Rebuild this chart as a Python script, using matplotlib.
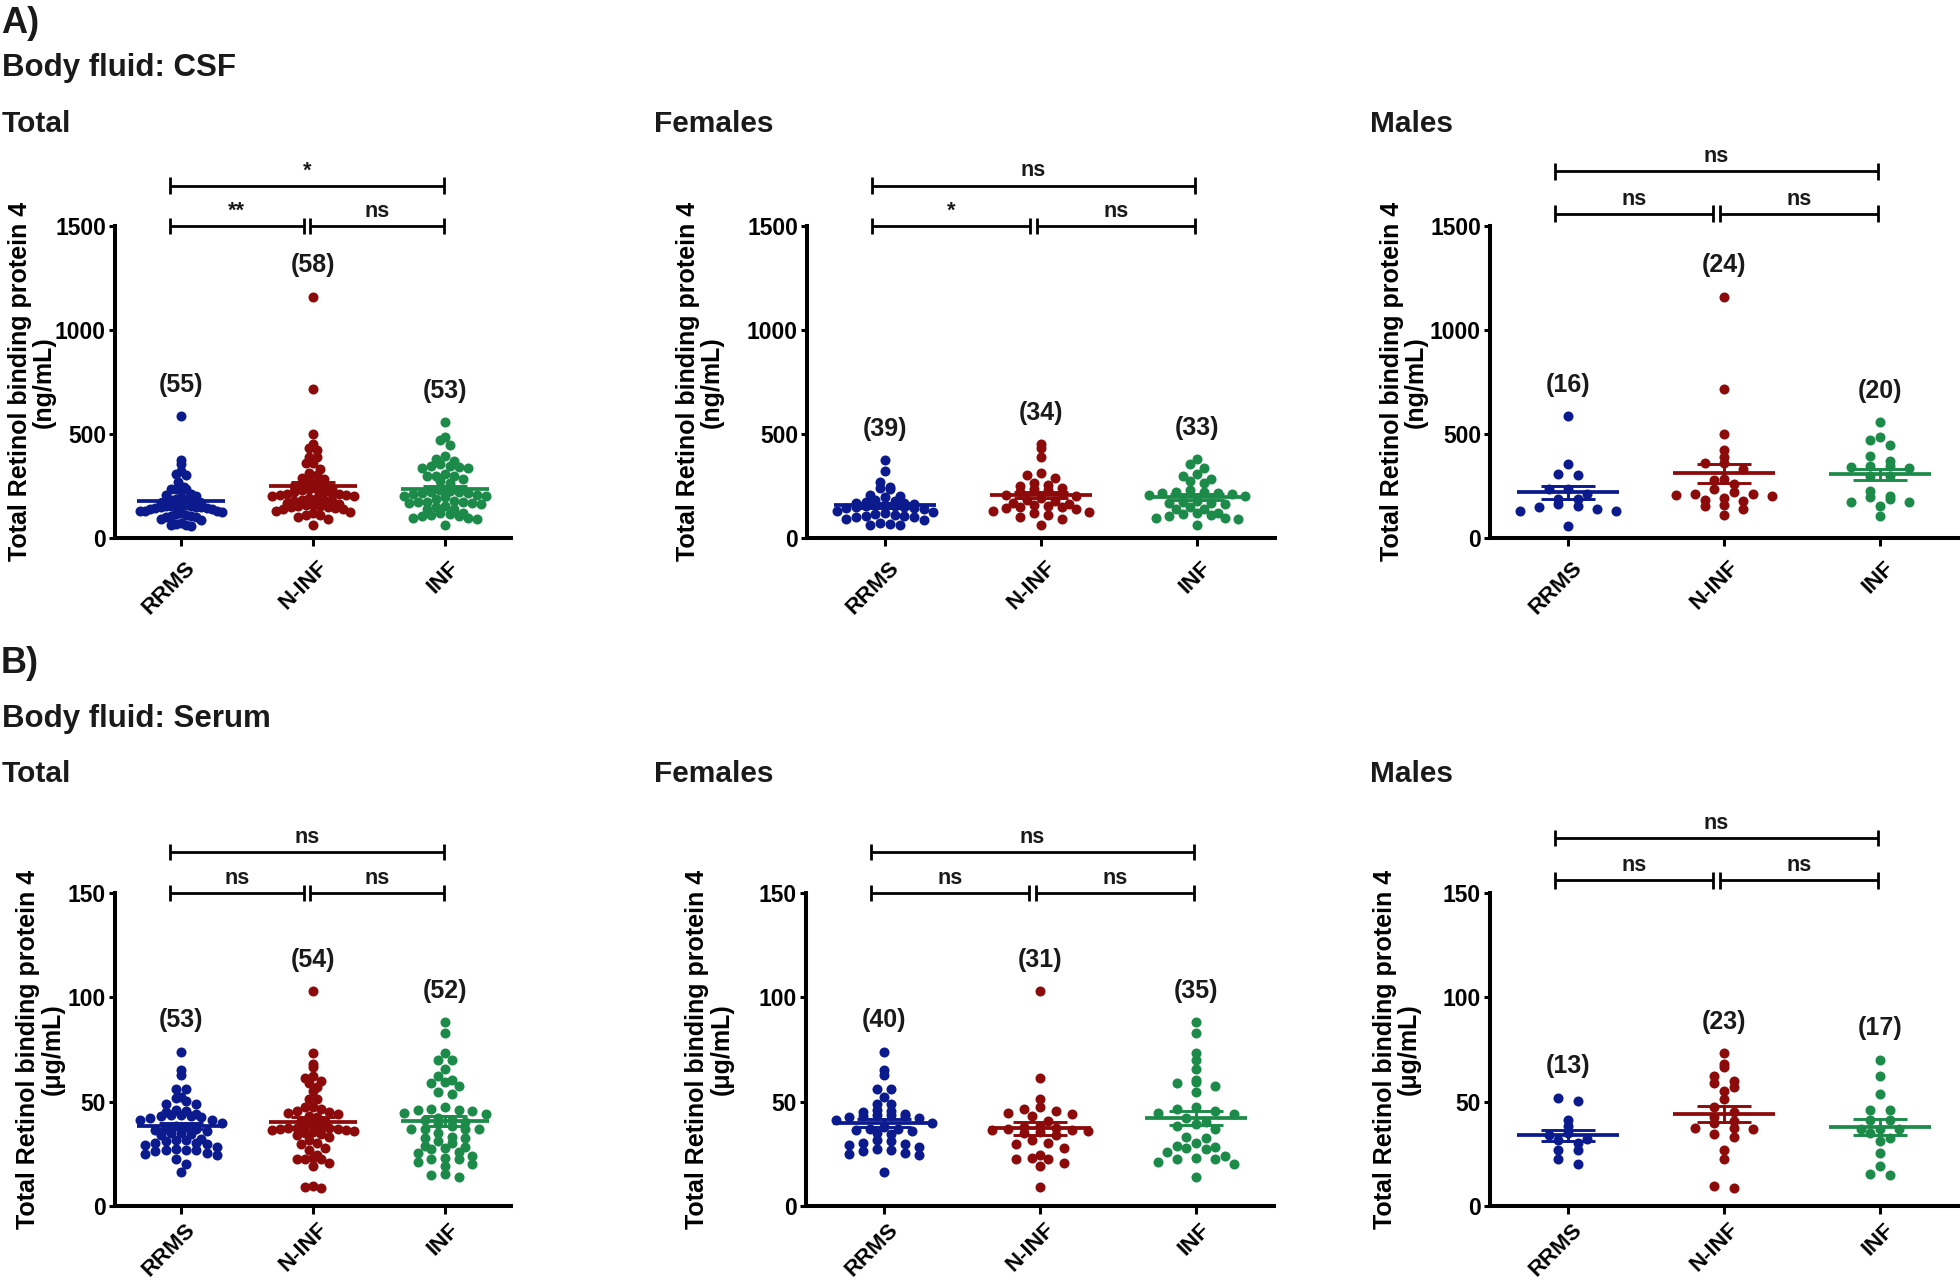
import numpy as np
import matplotlib
matplotlib.use('Agg')
import matplotlib.pyplot as plt
from matplotlib.transforms import ScaledTranslation

plt.rcParams['font.family'] = ['Liberation Sans', 'DejaVu Sans']
plt.rcParams['font.weight'] = 'bold'

# ---------------- data ----------------
groups = ['RRMS', 'N-INF', 'INF']
group_colors = ['#0b1a8c', '#8c0a0a', '#1c8a48']

# CSF (ng/mL) - females
csf_f_rrms = [372, 318, 268, 245, 238, 235, 205, 200, 196, 180, 175, 172, 168, 165, 162,
              158, 155, 152, 150, 148, 146, 143, 140, 136, 130, 125, 118, 112, 108, 104,
              102, 100, 98, 70, 66, 62, 58, 90, 85]
csf_f_ninf = [449, 433, 388, 310, 300, 285, 262, 255, 248, 240, 235, 230, 220, 210, 205,
              200, 190, 182, 175, 168, 160, 155, 150, 148, 145, 140, 135, 130, 125, 118,
              110, 100, 90, 58]
csf_f_inf = [376, 352, 333, 305, 281, 296, 272, 264, 227, 221, 200, 208, 216, 203, 219,
             216, 173, 160, 147, 168, 168, 176, 139, 136, 109, 91, 104, 96, 96, 113,
             117, 120, 61]
# CSF (ng/mL) - males
csf_m_rrms = [586, 354, 300, 305, 235, 235, 208, 187, 187, 159, 146, 130, 135, 127, 154, 54]
csf_m_ninf = [1160, 716, 497, 419, 386, 357, 357, 330, 284, 276, 256, 235, 219, 208, 203,
              208, 200, 175, 180, 191, 156, 151, 135, 110]
csf_m_inf = [557, 484, 471, 446, 391, 370, 346, 346, 338, 333, 294, 294, 224, 195, 200,
             183, 170, 170, 151, 105]

# Serum (ug/mL) - females
ser_f_rrms = [74, 65, 63, 56, 56, 52, 49, 49, 46, 45.5, 45, 44, 43.5, 43.5, 43, 43, 42.5,
              42, 41, 40, 38, 37, 37, 36.5, 36, 35, 34.5, 31.5, 31, 30, 29.5, 29, 28.5,
              27.5, 27, 26.5, 25.5, 25, 24.5, 16.5]
ser_f_ninf = [103, 61.5, 51.5, 47.5, 46.5, 45.5, 44.5, 44, 43, 40.5, 38.5, 38, 37.5, 37,
              36.5, 36.5, 36, 35.5, 35, 34, 31.5, 30, 29.5, 28, 24.5, 23, 22.5, 22.5,
              20.5, 19, 9]
ser_f_inf = [88, 83.1, 73.2, 70, 65.5, 59.6, 60.4, 57.5, 58.8, 54.8, 47.3, 45.5, 44.4,
             44.1, 46.5, 39.3, 40.4, 38.5, 36.9, 33.2, 32.4, 30.3, 28.9, 27.6, 28.4, 27.3,
             25.7, 24.1, 22.4, 23.2, 22.4, 20.9, 20.0, 14.1, 42]
# Serum (ug/mL) - males
ser_m_rrms = [51.9, 50.3, 41.1, 38.4, 33.9, 32.3, 30.4, 31.5, 27, 27, 22.3, 20, 35]
ser_m_ninf = [73.1, 68, 66.8, 62.2, 60, 58.8, 56.9, 55.3, 51.4, 47.3, 44.9, 42.6, 40.5,
              39.7, 37.4, 36.7, 37.4, 34.3, 33.1, 27, 22.7, 8.4, 9.5]
ser_m_inf = [70.2, 62.2, 53.7, 45.8, 46.1, 41.1, 41.1, 37.1, 37.1, 37.1, 35, 32.8, 31.2,
             25.2, 19.1, 14.8, 15.3]

# significance labels: (left pair, right pair, outer pair)
sig_csf_total = ['**', 'ns', '*']
sig_csf_female = ['*', 'ns', 'ns']
sig_csf_male = ['ns', 'ns', 'ns']
sig_serum_total = ['ns', 'ns', 'ns']
sig_serum_female = ['ns', 'ns', 'ns']
sig_serum_male = ['ns', 'ns', 'ns']

csf_yticks = [0, 500, 1000, 1500]
serum_yticks = [0, 50, 100, 150]

# ---------------- figure ----------------
W, H = 1960, 1285
fig = plt.figure(figsize=(W / 100, H / 100), dpi=100)
TXT = '#1a1a1a'


def rect(left, top, right, bottom):
    return [left / W, 1 - bottom / H, (right - left) / W, (bottom - top) / H]


def swarm(vals, center, binh, maxstep=0.122, spread=0.62):
    vals = np.asarray(vals, dtype=float)
    bins = np.floor(vals / binh).astype(int)
    rows = {}
    for idx, b in enumerate(bins):
        rows.setdefault(b, []).append(idx)
    nmax = max(len(r) for r in rows.values())
    step = maxstep if nmax <= 1 else min(maxstep, spread / (nmax - 1))
    xs = np.zeros(len(vals))
    for b, idxs in rows.items():
        idxs = sorted(idxs, key=lambda k: -vals[k])
        n = len(idxs)
        slots = (np.arange(n) - (n - 1) / 2) * step
        order = np.argsort(np.abs(slots) + 1e-6 * np.arange(n), kind='stable')
        for k, si in zip(idxs, order):
            xs[k] = center + slots[si]
    return xs


def bracket(ax, x0, x1, y, h, text, ymax):
    kw = dict(color='black', lw=2.0, clip_on=False, solid_capstyle='butt')
    ax.plot([x0, x1], [y, y], **kw)
    ax.plot([x0, x0], [y - h, y + h], **kw)
    ax.plot([x1, x1], [y - h, y + h], **kw)
    ax.text((x0 + x1) / 2, y + 0.029 * ymax, text, ha='center', va='baseline',
            fontsize=15.5, fontweight='bold', color=TXT)


def panel(r, data, ymax, yticks, unit, sig, lab_x, male=False, xpad=3.5):
    ax = fig.add_axes(r)
    ax.set_xlim(-0.5, 2.5)
    ax.set_ylim(0, ymax)
    for s in ['top', 'right']:
        ax.spines[s].set_visible(False)
    for s in ['left', 'bottom']:
        ax.spines[s].set_linewidth(2.9)
    ax.set_yticks(yticks)
    ax.set_yticklabels([str(t) for t in yticks], fontsize=16.5, fontweight='bold')
    ax.tick_params(axis='y', length=4, width=2.2, pad=2.5)
    ax.set_xticks(range(3))
    ax.set_xticklabels(groups, rotation=45, ha='right', va='top',
                       rotation_mode='anchor', fontsize=16, fontweight='bold')
    ax.tick_params(axis='x', length=6, width=2.2, pad=xpad)
    for lab in ax.get_xticklabels():
        lab.set_transform(lab.get_transform() + ScaledTranslation(4 / 100, 0, fig.dpi_scale_trans))
    ax.set_ylabel('Total Retinol binding protein 4\n(' + unit + ')', fontsize=18,
                  fontweight='bold', linespacing=1.0)
    ax.yaxis.set_label_coords(lab_x, 0.5)

    binh = ymax / 37.5
    for i, vals in enumerate(data):
        v = np.asarray(vals, dtype=float)
        xs = swarm(v, i, binh)
        ax.scatter(xs, v, s=52, color=group_colors[i], linewidths=0, zorder=3,
                   clip_on=False)
        m = v.mean()
        se = v.std(ddof=1) / np.sqrt(len(v))
        c = group_colors[i]
        ax.plot([i - 0.33, i + 0.33], [m, m], color=c, lw=2.7, zorder=4,
                solid_capstyle='butt')
        ax.plot([i, i], [m - se, m + se], color=c, lw=2.1, zorder=4)
        for yy in (m - se, m + se):
            ax.plot([i - 0.17, i + 0.17], [yy, yy], color=c, lw=2.1, zorder=4,
                    solid_capstyle='butt')
        ax.text(i, v.max() + 0.1 * ymax, '(%d)' % len(v), ha='center', va='center',
                fontsize=18, fontweight='bold', color=TXT)

    lo = (1.04 if male else 1.0) * ymax
    hi = (1.175 if male else 1.13) * ymax
    h = 0.026 * ymax
    bracket(ax, -0.085, 0.93, lo, h, sig[0], ymax)
    bracket(ax, 0.975, 1.99, lo, h, sig[1], ymax)
    bracket(ax, -0.085, 1.99, hi, h, sig[2], ymax)
    return ax


csf_total = [csf_f_rrms + csf_m_rrms, csf_f_ninf + csf_m_ninf, csf_f_inf + csf_m_inf]
csf_female = [csf_f_rrms, csf_f_ninf, csf_f_inf]
csf_male = [csf_m_rrms, csf_m_ninf, csf_m_inf]
ser_total = [ser_f_rrms + ser_m_rrms, ser_f_ninf + ser_m_ninf, ser_f_inf + ser_m_inf]
ser_female = [ser_f_rrms, ser_f_ninf, ser_f_inf]
ser_male = [ser_m_rrms, ser_m_ninf, ser_m_inf]

# Row A (CSF)
panel(rect(115, 226, 511, 537.5), csf_total, 1500, csf_yticks, 'ng/mL', sig_csf_total, -0.150, xpad=8)
panel(rect(807, 226, 1275, 537.5), csf_female, 1500, csf_yticks, 'ng/mL', sig_csf_female, -0.177, xpad=8)
panel(rect(1490, 226, 1958, 537.5), csf_male, 1500, csf_yticks, 'ng/mL', sig_csf_male, -0.133, male=True, xpad=8)
# Row B (Serum)
panel(rect(115, 893, 511, 1206), ser_total, 150, serum_yticks, 'μg/mL', sig_serum_total, -0.128)
panel(rect(806, 893, 1274, 1206), ser_female, 150, serum_yticks, 'μg/mL', sig_serum_female, -0.155)
panel(rect(1490, 893, 1958, 1206), ser_male, 150, serum_yticks, 'μg/mL', sig_serum_male, -0.147, male=True)


def ftext(x, y, s, size):
    fig.text(x / W, 1 - y / H, s, ha='left', va='baseline', fontsize=size,
             fontweight='bold', color=TXT)


ftext(1, 33, 'A)', 26)
ftext(2, 76, 'Body fluid: CSF', 22.5)
ftext(2, 132, 'Total', 21.5)
ftext(654, 132, 'Females', 21.5)
ftext(1370, 132, 'Males', 21.5)
ftext(1, 673, 'B)', 26)
ftext(2, 727, 'Body fluid: Serum', 22.5)
ftext(2, 782, 'Total', 21.5)
ftext(654, 782, 'Females', 21.5)
ftext(1370, 782, 'Males', 21.5)

fig.savefig('out.png', dpi=100, facecolor='white')
